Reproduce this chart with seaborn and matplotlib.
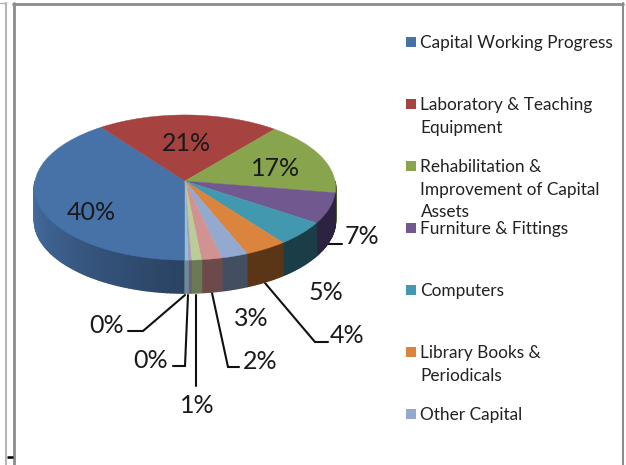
import numpy as np
import matplotlib
matplotlib.use("Agg")
import matplotlib.pyplot as plt
from matplotlib.patches import PathPatch, Rectangle
from matplotlib.path import Path
import seaborn as sns

# data
legend_names = ["Capital Working Progress", "Laboratory & Teaching\nEquipment",
                "Rehabilitation &\nImprovement of Capital\nAssets", "Furniture & Fittings",
                "Computers", "Library Books &\nPeriodicals", "Other Capital"]
values = [39.9, 21.3, 16.6, 6.8, 5.3, 4.2, 2.6, 2.0, 1.0, 0.3, 0.3]
top_colors = ["#4672a8", "#a64341", "#88a44d", "#71588f", "#4198af", "#da843d",
              "#93a9cf", "#d19392", "#b9cd96", "#a99bbd", "#92c3d4"]
side_colors = ["#2a4262", "#5e2625", "#4d5d2b", "#2d2340", "#1b3d48", "#5a3616",
               "#434e60", "#6d4a4a", "#6a7a55", "#6a6078", "#6f8a96"]

# layout, in pixels of the 626x465 picture
label_pos = [(91, 212), (186, 143), (276, 168), (362, 236), (326, 292), (347, 335),
             (251, 318), (260, 361), (197, 405), (151, 360), (107, 325)]
leaders = [[(328, 244), (342, 244)],
           [(265, 283), (315, 342), (328, 342)],
           [(212, 293), (228, 367), (239, 367)],
           [(196, 295), (196, 386)],
           [(188, 295), (185, 366), (173, 366)],
           [(185, 295), (143, 331), (128, 331)]]
cx, cy = 185, 181
sx, sy, tilt = 150, 72, 0.09
depth = 33

sns.set_theme(style="white")
plt.rcParams['font.family'] = ['Lato', 'DejaVu Sans']
palette = sns.color_palette(top_colors)


def project(x, y):
    # tilted disc: the near edge is bigger, so the centre sits above the ellipse middle
    w = 1 + tilt * y
    return cx + sx * x / w, cy - sy * y / w


fig = plt.figure(figsize=(6.26, 4.65), dpi=100)
ax = fig.add_axes([0, 0, 1, 1])
wedges, _ = ax.pie(values, startangle=270, counterclock=False, colors=palette)
ax.set_aspect('auto')
ax.set_xlim(0, 626)
ax.set_ylim(465, 0)
ax.axis('off')

for line in leaders:
    xs, ys = zip(*line)
    ax.plot(xs, ys, color='#111111', lw=1.5, solid_joinstyle='miter', zorder=1)

# side wall, only the front half of the disc shows
for i, w in enumerate(wedges):
    a0, a1 = w.theta1, w.theta2
    if a0 < 0:
        a0, a1 = a0 + 360, a1 + 360
    a0, a1 = max(a0, 180), min(a1, 360)
    if a1 <= a0:
        continue
    steps = np.linspace(a0, a1, max(int(a1 - a0), 1) + 1)
    for t0, t1 in zip(steps[:-1], steps[1:]):
        x0, y0 = project(np.cos(np.radians(t0)), np.sin(np.radians(t0)))
        x1, y1 = project(np.cos(np.radians(t1)), np.sin(np.radians(t1)))
        col = np.array(matplotlib.colors.to_rgb(side_colors[i]))
        if i == 0:
            # blue wall fades from the left rim to the dark front
            f = (t0 - 180) / 90
            col = (1 - f) * np.array(matplotlib.colors.to_rgb("#4771a6")) + f * col
        # lw 1 so the strips overlap and leave no pale seams
        ax.fill([x0, x1, x1, x0], [y0, y1, y1 + depth, y0 + depth], color=col, lw=1, zorder=2)

# top face, pie wedges pushed through the tilt
for w in wedges:
    p = w.get_path()
    px, py = project(p.vertices[:, 0], p.vertices[:, 1])
    ax.add_patch(PathPatch(Path(np.column_stack([px, py]), p.codes), facecolor=w.get_facecolor(),
                           edgecolor=w.get_facecolor(), lw=0.3, zorder=3))
    w.remove()

for v, (x, y) in zip(values, label_pos):
    ax.text(x, y, f"{v:.0f}%", fontsize=18, color='#1a1a1a', ha='center', va='center', zorder=4)

# legend, fixed pitch so long names run into the next entry like in the original
for i, name in enumerate(legend_names):
    y = 42 + 62 * i
    ax.add_patch(Rectangle((406, y - 5), 10, 10, facecolor=palette[i], edgecolor='none'))
    ax.text(420.5, y - 7, name, fontsize=12.4, color='#222222', ha='left', va='top', linespacing=1.5)

# the window frame around the chart
frame = '#8c8c8c'
ax.plot([14, 14], [3, 465], color=frame, lw=2)
ax.plot([13, 623], [4, 4], color=frame, lw=2)
ax.plot([622.5, 622.5], [3, 465], color=frame, lw=1.5)
ax.plot([6, 6], [3, 465], color='#b5b5b5', lw=1.5)
ax.plot([0, 6], [3, 3], color='#b5b5b5', lw=1)
ax.plot([7, 13], [456.5, 456.5], color='black', lw=1.8, solid_capstyle='butt')

fig.savefig('out.png', dpi=100)
